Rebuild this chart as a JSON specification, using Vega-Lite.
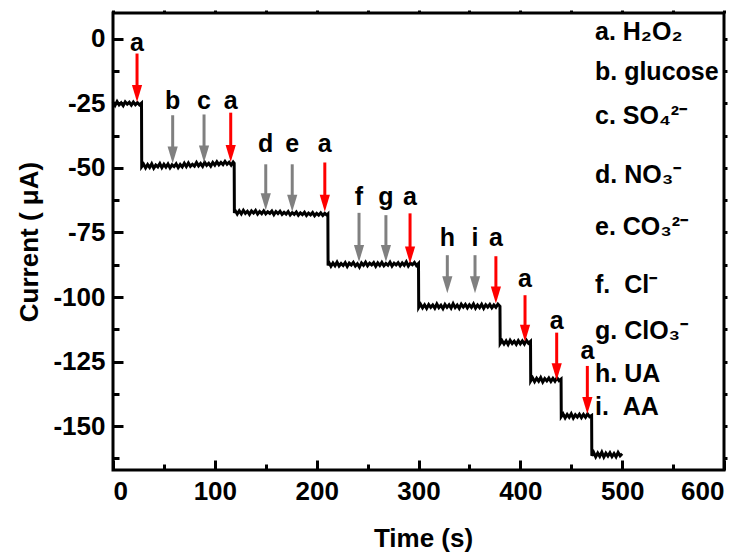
{
  "$schema": "https://vega.github.io/schema/vega-lite/v6.json",
  "width": 611,
  "height": 457,
  "autosize": {"type": "none"},
  "padding": {"left": 113, "top": 13, "right": 27, "bottom": 83},
  "config": {
    "view": {"stroke": "black", "strokeWidth": 3},
    "font": "Liberation Sans",
    "axis": {"grid": false, "domain": false, "tickColor": "black", "tickWidth": 3, "labelColor": "black", "titleColor": "black", "labelFont": "Liberation Sans", "titleFont": "Liberation Sans"}
  },
  "datasets": {
    "curve": [
      {"t":0,"i":-24.5},{"t":2,"i":-25.8},{"t":4,"i":-24.3},{"t":6,"i":-25.6},{"t":8,"i":-24.8},{"t":10,"i":-25.9},{"t":12,"i":-24.4},{"t":14,"i":-25.3},{"t":16,"i":-24.6},{"t":18,"i":-25.7},{"t":20,"i":-24.5},{"t":22,"i":-25.5},{"t":24,"i":-24.7},{"t":26,"i":-25.6},{"t":28,"i":-24.9},
      {"t":28.2,"i":-49.5},
      {"t":30,"i":-48.5},{"t":32,"i":-50.0},{"t":34,"i":-48.7},{"t":36,"i":-49.8},{"t":38,"i":-48.4},{"t":40,"i":-50.1},{"t":42,"i":-48.9},{"t":44,"i":-49.6},{"t":46,"i":-48.3},{"t":48,"i":-49.9},{"t":50,"i":-48.6},{"t":52,"i":-49.7},{"t":54,"i":-48.5},{"t":56,"i":-50.0},{"t":58,"i":-48.8},{"t":60,"i":-49.5},{"t":62,"i":-48.4},{"t":64,"i":-49.9},{"t":66,"i":-48.7},{"t":68,"i":-49.6},{"t":70,"i":-48.2},{"t":72,"i":-49.5},{"t":74,"i":-48.1},{"t":76,"i":-49.4},{"t":78,"i":-48.6},{"t":80,"i":-49.3},{"t":82,"i":-47.9},{"t":84,"i":-49.2},{"t":86,"i":-48.3},{"t":88,"i":-49.4},{"t":90,"i":-47.8},{"t":92,"i":-49.0},{"t":94,"i":-48.2},{"t":96,"i":-49.3},{"t":98,"i":-47.9},{"t":100,"i":-48.9},{"t":102,"i":-47.6},{"t":104,"i":-48.8},{"t":106,"i":-47.9},{"t":108,"i":-48.7},{"t":110,"i":-47.5},{"t":112,"i":-48.6},{"t":114,"i":-47.8},{"t":116,"i":-48.9},{"t":118,"i":-47.7},{"t":119,"i":-48.2},
      {"t":119.2,"i":-67.5},
      {"t":120,"i":-66.5},{"t":122,"i":-67.9},{"t":124,"i":-66.6},{"t":126,"i":-67.8},{"t":128,"i":-66.4},{"t":130,"i":-67.6},{"t":132,"i":-66.8},{"t":134,"i":-68.0},{"t":136,"i":-66.7},{"t":138,"i":-67.5},{"t":140,"i":-66.5},{"t":142,"i":-67.9},{"t":144,"i":-66.9},{"t":146,"i":-67.7},{"t":148,"i":-66.6},{"t":150,"i":-67.8},{"t":152,"i":-67.0},{"t":154,"i":-67.6},{"t":156,"i":-66.7},{"t":158,"i":-68.1},{"t":160,"i":-66.9},{"t":162,"i":-67.7},{"t":164,"i":-66.8},{"t":166,"i":-68.0},{"t":168,"i":-67.2},{"t":170,"i":-67.9},{"t":172,"i":-66.9},{"t":174,"i":-68.2},{"t":176,"i":-67.3},{"t":178,"i":-68.0},{"t":180,"i":-67.1},{"t":182,"i":-68.3},{"t":184,"i":-67.4},{"t":186,"i":-68.1},{"t":188,"i":-67.2},{"t":190,"i":-68.4},{"t":192,"i":-67.5},{"t":194,"i":-68.2},{"t":196,"i":-67.3},{"t":198,"i":-68.5},{"t":200,"i":-67.6},{"t":202,"i":-68.3},{"t":204,"i":-67.4},{"t":206,"i":-68.4},{"t":208,"i":-67.6},{"t":210,"i":-68.3},{"t":211,"i":-67.9},
      {"t":211.2,"i":-87.8},
      {"t":212,"i":-86.6},{"t":214,"i":-88.1},{"t":216,"i":-86.8},{"t":218,"i":-87.9},{"t":220,"i":-86.5},{"t":222,"i":-88.0},{"t":224,"i":-87.0},{"t":226,"i":-87.8},{"t":228,"i":-86.7},{"t":230,"i":-88.2},{"t":232,"i":-86.9},{"t":234,"i":-87.6},{"t":236,"i":-86.6},{"t":238,"i":-88.0},{"t":240,"i":-87.1},{"t":242,"i":-88.4},{"t":244,"i":-86.8},{"t":246,"i":-87.7},{"t":248,"i":-86.5},{"t":250,"i":-87.9},{"t":252,"i":-86.9},{"t":254,"i":-87.6},{"t":256,"i":-86.7},{"t":258,"i":-88.1},{"t":260,"i":-86.8},{"t":262,"i":-87.8},{"t":264,"i":-86.6},{"t":266,"i":-87.9},{"t":268,"i":-87.0},{"t":270,"i":-87.7},{"t":272,"i":-86.5},{"t":274,"i":-88.0},{"t":276,"i":-86.9},{"t":278,"i":-87.6},{"t":280,"i":-86.7},{"t":282,"i":-87.9},{"t":284,"i":-86.8},{"t":286,"i":-87.7},{"t":288,"i":-86.4},{"t":290,"i":-88.0},{"t":292,"i":-86.9},{"t":294,"i":-87.5},{"t":296,"i":-86.6},{"t":298,"i":-87.8},{"t":300,"i":-87.0},
      {"t":300.2,"i":-104.0},
      {"t":302,"i":-102.8},{"t":304,"i":-104.2},{"t":306,"i":-103.0},{"t":308,"i":-104.4},{"t":310,"i":-102.9},{"t":312,"i":-104.0},{"t":314,"i":-103.1},{"t":316,"i":-104.3},{"t":318,"i":-102.7},{"t":320,"i":-104.1},{"t":322,"i":-103.2},{"t":324,"i":-104.5},{"t":326,"i":-102.9},{"t":328,"i":-104.0},{"t":330,"i":-103.0},{"t":332,"i":-104.3},{"t":334,"i":-102.6},{"t":336,"i":-104.1},{"t":338,"i":-103.1},{"t":340,"i":-104.4},{"t":342,"i":-102.8},{"t":344,"i":-103.9},{"t":346,"i":-102.9},{"t":348,"i":-104.2},{"t":350,"i":-103.0},{"t":352,"i":-104.0},{"t":354,"i":-102.7},{"t":356,"i":-104.3},{"t":358,"i":-103.1},{"t":360,"i":-104.1},{"t":362,"i":-102.8},{"t":364,"i":-104.4},{"t":366,"i":-103.0},{"t":368,"i":-103.9},{"t":370,"i":-102.9},{"t":372,"i":-104.2},{"t":374,"i":-103.1},{"t":376,"i":-104.0},{"t":378,"i":-102.8},{"t":380,"i":-103.6},
      {"t":380.2,"i":-118.0},
      {"t":382,"i":-116.9},{"t":384,"i":-118.2},{"t":386,"i":-117.0},{"t":388,"i":-118.4},{"t":390,"i":-116.8},{"t":392,"i":-118.0},{"t":394,"i":-117.1},{"t":396,"i":-118.3},{"t":398,"i":-116.9},{"t":400,"i":-118.1},{"t":402,"i":-117.0},{"t":404,"i":-118.2},{"t":406,"i":-116.8},{"t":408,"i":-117.9},{"t":410,"i":-117.2},
      {"t":410.2,"i":-132.5},
      {"t":412,"i":-131.3},{"t":414,"i":-132.8},{"t":416,"i":-131.5},{"t":418,"i":-132.6},{"t":420,"i":-131.2},{"t":422,"i":-132.9},{"t":424,"i":-131.6},{"t":426,"i":-132.5},{"t":428,"i":-131.4},{"t":430,"i":-132.7},{"t":432,"i":-131.5},{"t":434,"i":-132.6},{"t":436,"i":-131.3},{"t":438,"i":-132.4},{"t":440,"i":-131.8},
      {"t":440.2,"i":-146.3},
      {"t":442,"i":-145.3},{"t":444,"i":-146.8},{"t":446,"i":-145.5},{"t":448,"i":-146.6},{"t":450,"i":-145.2},{"t":452,"i":-146.9},{"t":454,"i":-145.6},{"t":456,"i":-146.5},{"t":458,"i":-145.4},{"t":460,"i":-146.7},{"t":462,"i":-145.5},{"t":464,"i":-146.6},{"t":466,"i":-145.3},{"t":468,"i":-146.4},{"t":470,"i":-145.9},
      {"t":470.2,"i":-161.5},
      {"t":472,"i":-160.2},{"t":474,"i":-161.9},{"t":476,"i":-160.4},{"t":478,"i":-161.7},{"t":480,"i":-160.1},{"t":482,"i":-162.0},{"t":484,"i":-160.5},{"t":486,"i":-161.6},{"t":488,"i":-160.3},{"t":490,"i":-161.8},{"t":492,"i":-160.6},{"t":494,"i":-161.9},{"t":496,"i":-160.2},{"t":498,"i":-161.5},{"t":500,"i":-160.7}
    ],
    "arrows": [
      {"t":23.6,"top":-5.7,"tip":-24.5,"kind":"red","lab":"a","ly":-4.7},
      {"t":58.6,"top":-29.6,"tip":-48.3,"kind":"gray","lab":"b","ly":-27.0},
      {"t":89.4,"top":-29.3,"tip":-47.9,"kind":"gray","lab":"c","ly":-27.0},
      {"t":115.6,"top":-28.6,"tip":-47.7,"kind":"red","lab":"a","ly":-27.0},
      {"t":150,"top":-48.6,"tip":-66.4,"kind":"gray","lab":"d","ly":-43.8},
      {"t":176,"top":-48.6,"tip":-67,"kind":"gray","lab":"e","ly":-43.8},
      {"t":208,"top":-47.9,"tip":-67,"kind":"red","lab":"a","ly":-43.8},
      {"t":241.6,"top":-67.4,"tip":-86.4,"kind":"gray","lab":"f","ly":-64.4},
      {"t":268,"top":-68.3,"tip":-86.4,"kind":"gray","lab":"g","ly":-64.4},
      {"t":291.7,"top":-67.6,"tip":-87,"kind":"red","lab":"a","ly":-64.4},
      {"t":328.3,"top":-83.8,"tip":-98.5,"kind":"gray","lab":"h","ly":-80.3},
      {"t":355.5,"top":-83.8,"tip":-98.5,"kind":"gray","lab":"i","ly":-80.3},
      {"t":376,"top":-84.2,"tip":-102.5,"kind":"red","lab":"a","ly":-80.3},
      {"t":404.6,"top":-99.3,"tip":-117.3,"kind":"red","lab":"a","ly":-96.0},
      {"t":435.7,"top":-113.8,"tip":-132.2,"kind":"red","lab":"a","ly":-112.2},
      {"t":465.8,"top":-126.7,"tip":-145.3,"kind":"red","lab":"a","ly":-124.1}
    ],
    "legend": [
      {"t":473.3,"y":-0.6,"txt":"a. H\u2082O\u2082"},
      {"t":473.3,"y":-16,"txt":"b. glucose"},
      {"t":473.3,"y":-33,"txt":"c. SO\u2084\u00b2\u207b"},
      {"t":473.3,"y":-55.8,"txt":"d. NO\u2083\u207b"},
      {"t":473.3,"y":-76,"txt":"e. CO\u2083\u00b2\u207b"},
      {"t":473.3,"y":-98.6,"txt":"f. \u00a0Cl\u207b"},
      {"t":473.3,"y":-116.4,"txt":"g. ClO\u2083\u207b"},
      {"t":473.3,"y":-132.8,"txt":"h. UA"},
      {"t":473.3,"y":-145.7,"txt":"i. \u00a0AA"}
    ]
  },
  "layer": [
    {
      "data": {"name": "curve"},
      "mark": {"type": "line", "color": "black", "strokeWidth": 3},
      "encoding": {
        "x": {"field": "t", "type": "quantitative", "scale": {"domain": [0, 600], "nice": false, "zero": false},
          "axis": {"orient": "bottom", "values": [0,100,200,300,400,500,600], "tickSize": -10, "labelPadding": 18, "labelFontSize": 26, "labelFontWeight": "bold", "labelExpr": "'' + datum.value", "title": "Time (s)", "titleFontSize": 26, "titleFontWeight": "bold", "titleBaseline": "alphabetic", "titleY": 76, "titleX": 310}},
        "y": {"field": "i", "type": "quantitative", "scale": {"domain": [-167, 10], "nice": false, "zero": false},
          "axis": {"orient": "left", "values": [0,-25,-50,-75,-100,-125,-150], "tickSize": -10, "labelPadding": 18, "labelFontSize": 26, "labelFontWeight": "bold", "labelExpr": "'' + datum.value", "title": "Current ( \u03bcA)", "titleFontSize": 26, "titleFontWeight": "bold", "titleBaseline": "alphabetic", "titleX": -76}}
      }
    },
    {
      "data": {"name": "arrows"},
      "mark": {"type": "rule", "strokeWidth": 3, "y2Offset": -8},
      "encoding": {
        "x": {"field": "t", "type": "quantitative", "scale": {"domain": [0, 600], "nice": false, "zero": false},
          "axis": {"orient": "bottom", "values": [50,150,250,350,450,550], "tickSize": -6, "labels": false, "title": null}},
        "y": {"field": "top", "type": "quantitative", "scale": {"domain": [-167, 10], "nice": false, "zero": false},
          "axis": {"orient": "left", "values": [-12.5,-37.5,-62.5,-87.5,-112.5,-137.5,-162.5], "tickSize": -6, "labels": false, "title": null}},
        "y2": {"field": "tip"},
        "color": {"field": "kind", "type": "nominal", "scale": {"domain": ["red", "gray"], "range": ["#ff0000", "#808080"]}, "legend": null}
      }
    },
    {
      "data": {"name": "arrows"},
      "mark": {"type": "point", "filled": true, "shape": "M-0.6,-2L0.6,-2L0,0Z", "size": 289, "opacity": 1, "strokeWidth": 0},
      "encoding": {
        "x": {"field": "t", "type": "quantitative", "scale": {"domain": [0, 600], "nice": false, "zero": false},
          "axis": {"orient": "top", "values": [0,50,100,150,200,250,300,350,400,450,500,550,600], "tickSize": 3, "labels": false, "title": null}},
        "y": {"field": "tip", "type": "quantitative", "scale": {"domain": [-167, 10], "nice": false, "zero": false},
          "axis": {"orient": "right", "values": [0,-12.5,-25,-37.5,-50,-62.5,-75,-87.5,-100,-112.5,-125,-137.5,-150,-162.5], "tickSize": 3, "labels": false, "title": null}},
        "color": {"field": "kind", "type": "nominal", "scale": {"domain": ["red", "gray"], "range": ["#ff0000", "#808080"]}, "legend": null}
      }
    },
    {
      "data": {"name": "arrows"},
      "mark": {"type": "text", "font": "Liberation Sans", "fontSize": 25, "fontWeight": "bold", "baseline": "alphabetic", "align": "center", "color": "black"},
      "encoding": {
        "x": {"field": "t", "type": "quantitative", "scale": {"domain": [0, 600], "nice": false, "zero": false}, "axis": null},
        "y": {"field": "ly", "type": "quantitative", "scale": {"domain": [-167, 10], "nice": false, "zero": false}, "axis": null},
        "text": {"field": "lab"}
      }
    },
    {
      "data": {"name": "legend"},
      "mark": {"type": "text", "font": "Liberation Sans", "fontSize": 25, "fontWeight": "bold", "baseline": "alphabetic", "align": "left", "color": "black"},
      "encoding": {
        "x": {"field": "t", "type": "quantitative", "scale": {"domain": [0, 600], "nice": false, "zero": false}, "axis": null},
        "y": {"field": "y", "type": "quantitative", "scale": {"domain": [-167, 10], "nice": false, "zero": false}, "axis": null},
        "text": {"field": "txt"}
      }
    }
  ],
  "resolve": {"axis": {"x": "independent", "y": "independent"}}
}
